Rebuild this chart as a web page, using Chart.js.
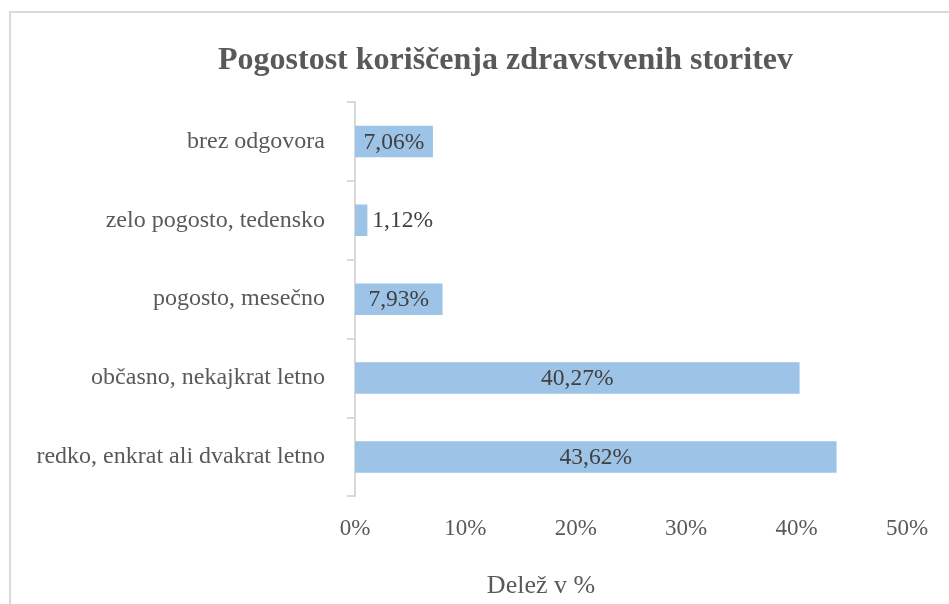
<!DOCTYPE html>
<html>
<head>
<meta charset="utf-8">
<script src="https://cdn.jsdelivr.net/npm/chart.js@4"></script>
<style>
  html, body { margin: 0; padding: 0; background: #fff; overflow: hidden; }
  #frame { position: absolute; left: 9px; top: 11px; width: 1100px; height: 700px;
           border-left: 2px solid #d9d9d9; border-top: 2px solid #d9d9d9; }
  #wrap { position: absolute; left: 0; top: 0; width: 1011px; height: 604px; }
</style>
</head>
<body>
<div id="frame"></div>
<div id="wrap"><canvas id="myChart"></canvas></div>
<script>
const categories = [
  'brez odgovora',
  'zelo pogosto, tedensko',
  'pogosto, mesečno',
  'občasno, nekajkrat letno',
  'redko, enkrat ali dvakrat letno'
];
const shares = [7.06, 1.12, 7.93, 40.27, 43.62];
const tickValues = [0, 10, 20, 30, 40, 50];

const serif = 'Liberation Serif, Times New Roman, serif';

// value labels on the bars, inside when they fit, otherwise after the bar
const barLabels = {
  id: 'barLabels',
  afterDatasetsDraw(chart) {
    const ctx = chart.ctx;
    const meta = chart.getDatasetMeta(0);
    ctx.save();
    ctx.font = '23.5px ' + serif;
    ctx.fillStyle = '#404040';
    ctx.textBaseline = 'middle';
    meta.data.forEach((bar, i) => {
      const txt = shares[i].toFixed(2).replace('.', ',') + '%';
      const w = ctx.measureText(txt).width;
      if (bar.x - bar.base > w + 6) {
        ctx.textAlign = 'center';
        ctx.fillText(txt, (bar.x + bar.base) / 2, bar.y + 1);
      } else {
        ctx.textAlign = 'left';
        ctx.fillText(txt, bar.x + 5, bar.y + 1);
      }
    });
    ctx.restore();
  }
};

// axis title sits left of the plot centre in the original
const axisTitle = {
  id: 'axisTitle',
  afterDraw(chart) {
    const ctx = chart.ctx;
    ctx.save();
    ctx.font = '26px ' + serif;
    ctx.fillStyle = '#595959';
    ctx.textAlign = 'center';
    ctx.textBaseline = 'middle';
    ctx.fillText('Delež v %', 541, 586);
    ctx.restore();
  }
};

new Chart(document.getElementById('myChart'), {
  type: 'bar',
  data: {
    labels: categories,
    datasets: [{
      data: shares,
      backgroundColor: '#9dc3e6',
      barPercentage: 0.4,
      categoryPercentage: 1
    }]
  },
  plugins: [barLabels, axisTitle],
  options: {
    indexAxis: 'y',
    responsive: true,
    maintainAspectRatio: false,
    animation: false,
    layout: { padding: { left: 0, right: 0, top: 0, bottom: 42 } },
    plugins: {
      legend: { display: false },
      tooltip: { enabled: false },
      title: {
        display: true,
        text: 'Pogostost koriščenja zdravstvenih storitev',
        color: '#595959',
        font: { family: serif, size: 32, weight: 'bold' },
        padding: { top: 42, bottom: 21.6 }
      }
    },
    scales: {
      x: {
        min: 0,
        max: 50,
        afterBuildTicks: (scale) => { scale.ticks = tickValues.map(v => ({ value: v })); },
        grid: { display: false, drawTicks: false },
        border: { display: false },
        ticks: {
          color: '#595959',
          font: { family: serif, size: 23 },
          padding: 19,
          callback: (v) => v + '%'
        }
      },
      y: {
        afterFit: (scale) => { scale.width = 355; },
        grid: {
          drawOnChartArea: false,
          drawTicks: true,
          tickLength: 8,
          color: '#d9d9d9',
          lineWidth: 2
        },
        border: { color: '#d9d9d9', width: 2 },
        ticks: {
          color: '#595959',
          font: { family: serif, size: 24 },
          padding: 22
        }
      },
      // empty right-hand axis, only keeps room on the right of the plot
      yRight: {
        type: 'category',
        position: 'right',
        afterFit: (scale) => { scale.width = 104; },
        grid: { display: false, drawTicks: false },
        border: { display: false },
        ticks: { display: false }
      }
    }
  }
});
</script>
</body>
</html>
